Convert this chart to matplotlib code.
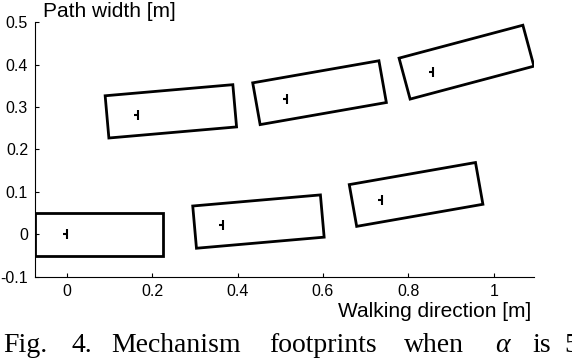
import matplotlib
matplotlib.use('Agg')
import matplotlib.pyplot as plt
from matplotlib.patches import Rectangle
from matplotlib.path import Path

# Footprint data (metres / degrees)
center_x = [0.075, 0.449, 0.818, 0.244, 0.592, 0.936]
center_y = [0.000, 0.030, 0.094, 0.290, 0.334, 0.406]
heading_deg = [0, 5, 10, 5, 10, 15]
ref_x = [0.000, 0.367, 0.739, 0.168, 0.515, 0.857]
ref_y = [0.000, 0.021, 0.080, 0.281, 0.318, 0.383]
foot_length = 0.30
foot_width = 0.10

x_ticks = [0, 0.2, 0.4, 0.6, 0.8, 1.0]
x_tick_labels = ['0', '0.2', '0.4', '0.6', '0.8', '1']
y_ticks = [-0.1, 0, 0.1, 0.2, 0.3, 0.4, 0.5]
y_tick_labels = ['-0.1', '0', '0.1', '0.2', '0.3', '0.4', '0.5']

caption_words = ['Fig.', '4.', 'Mechanism', 'footprints', 'when', 'α', 'is', '5°']
caption_px = [3, 72, 111, 269, 404, 495, 532, 564]

W, H = 572, 358
fig = plt.figure(figsize=(W / 100, H / 100), dpi=100)
ax = fig.add_axes([35 / W, (H - 276.7) / H, (534 - 35) / W, (276.7 - 22.3) / H])

for cx, cy, a in zip(center_x, center_y, heading_deg):
    r = Rectangle((cx - foot_length / 2, cy - foot_width / 2), foot_length, foot_width,
                  angle=a, rotation_point='center', fill=False, edgecolor='black',
                  linewidth=2.0, joinstyle='miter')
    ax.add_patch(r)

marker_path = Path([(0, -1), (0, 1), (-0.8, 0), (-0.2, 0)],
                   [Path.MOVETO, Path.LINETO, Path.MOVETO, Path.LINETO])
ax.plot(ref_x, ref_y, linestyle='none', marker=marker_path, markersize=7,
        markeredgewidth=1.5, color='black')

ax.set_xlim(-0.074, 1.094)
ax.set_ylim(-0.1, 0.5)
ax.set_xticks(x_ticks)
ax.set_xticklabels(x_tick_labels)
ax.set_yticks(y_ticks)
ax.set_yticklabels(y_tick_labels)
for s in ['top', 'right']:
    ax.spines[s].set_visible(False)
for s in ['left', 'bottom']:
    ax.spines[s].set_linewidth(0.8)
ax.tick_params(direction='in', length=3, width=0.8, labelsize=11.5, pad=5)
for lab in ax.get_xticklabels() + ax.get_yticklabels():
    lab.set_fontfamily('Liberation Sans')

ax.text(0.016, 1.021, 'Path width [m]', transform=ax.transAxes, ha='left', va='baseline',
        fontsize=15, family='Liberation Sans')
ax.text(1.0 - 3 / 499, -0.158, 'Walking direction [m]', transform=ax.transAxes, ha='right',
        va='baseline', fontsize=15, family='Liberation Sans')

for w, px in zip(caption_words, caption_px):
    fig.text(px / W, 6 / H, w, ha='left', va='baseline', fontsize=20,
             family='Liberation Serif', style='italic' if w == 'α' else 'normal')

fig.savefig('out.png', dpi=100)
